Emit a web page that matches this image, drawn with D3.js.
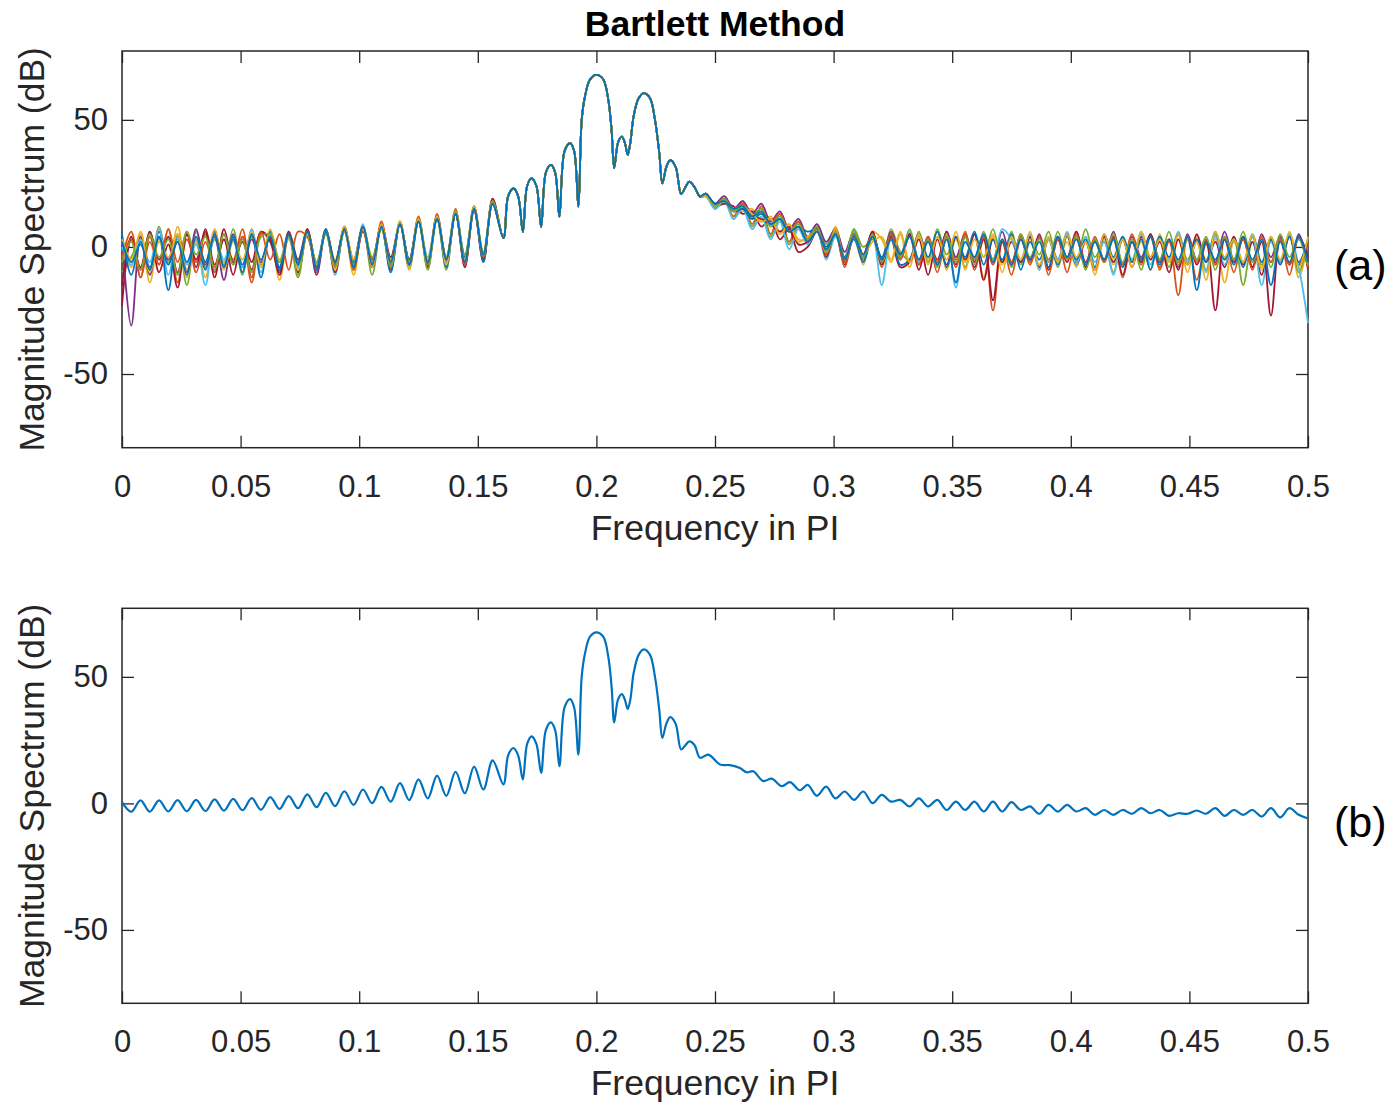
<!DOCTYPE html>
<html>
<head>
<meta charset="utf-8">
<script src="https://cdn.jsdelivr.net/npm/d3@7"></script>
<style>
  body { margin: 0; background: #fff; }
  svg text { font-family: "Liberation Sans", Arial, Helvetica, sans-serif; }
</style>
</head>
<body>
<svg id="chart" width="1394" height="1107"></svg>
<script>
// axis ticks
const xTickValues = [0, 0.05, 0.1, 0.15, 0.2, 0.25, 0.3, 0.35, 0.4, 0.45, 0.5];
const xTickLabels = ["0", "0.05", "0.1", "0.15", "0.2", "0.25", "0.3", "0.35", "0.4", "0.45", "0.5"];
const yTickValues = [-50, 0, 50];
const yTickLabels = ["-50", "0", "50"];

// frequency bins are 1/256 apart (in units of PI)
const binWidth = 1 / 256;

// (a) every run, dB on bins 0..40 (left of the peaks)
const runLeftDb = [
  [-4, 6, -12, 4, -7, 7, -14, 3, -6, 5, -10, 3, -5, 7, -12, 5, 4, -9, 6, -7, 7, -10, 6, -6, 8, -9, 7, -7, 10, -8, 10, -6, 12, -8, 13, -5, 15, -7, 16, -4, 18],
  [2, -8, 5, -14, 3, -7, 8, -9, 2, -12, 6, -6, 3, -10, 7, -8, 5, -13, 4, -7, 6, -9, 7, -5, 6, -11, 8, -6, 7, -7, 9, -9, 10, -5, 12, -7, 13, -4, 16, -6, 19],
  [-10, -4, 3, -9, 8, -6, 3, -15, 6, -8, 3, -7, 7, -11, 4, -7, 6, -6, 5, -11, 7, -7, 6, -8, 7, -6, 8, -11, 8, -5, 9, -7, 11, -6, 11, -9, 14, -3, 15, -5, 17],
  [-23, 3, -8, 6, -10, 1, -16, 5, -5, 6, -12, 7, -6, 2, -9, 6, 3, -8, 5, -10, 5, -8, 7, -7, 8, -8, 6, -5, 8, -9, 9, -5, 10, -7, 12, -6, 13, -8, 15, -3, 17],
  [4, -31, 4, -11, 6, -5, 2, -10, 7, -7, 4, -13, 5, -8, 3, -6, 6, -10, 4, -8, 6, -11, 6, -6, 7, -7, 7, -8, 8, -6, 9, -8, 10, -7, 11, -4, 13, -6, 14, -5, 18],
  [0, -7, 3, -6, 7, -11, 4, -7, 1, -15, 5, -5, 4, -8, 7, -10, 5, -6, 6, -8, 5, -6, 7, -11, 7, -8, 9, -6, 8, -7, 10, -8, 10, -4, 12, -6, 14, -5, 16, -4, 18],
  [-15, 4, -9, 6, -5, 4, -10, 5, -8, 7, -7, 3, -11, 4, -6, 6, 2, -11, 6, -5, 7, -7, 6, -10, 7, -5, 8, -8, 9, -4, 9, -7, 11, -8, 12, -5, 13, -7, 16, -5, 19],
  [5, -11, 2, -8, 4, -17, 5, -6, 3, -9, 6, -8, 4, -7, 5, -12, 6, -8, 5, -6, 6, -9, 7, -8, 6, -6, 8, -7, 8, -10, 9, -5, 10, -6, 12, -8, 13, -4, 15, -6, 18],
  [-4, 3, -12, 2, -7, 7, -6, 6, -10, 2, -8, 5, -7, 4, -14, 6, -5, 5, -9, 6, 4, -8, 6, -7, 7, -9, 7, -5, 9, -7, 9, -6, 11, -7, 11, -5, 13, -7, 15, -4, 17],
  [3, -5, 6, -10, 2, -4, 5, -12, 3, -6, 7, -9, 2, -5, 6, -8, 7, -5, 3, -9, 5, -7, 6, -9, 8, -5, 7, -8, 9, -6, 10, -8, 11, -5, 12, -7, 14, -5, 16, -3, 18],
  [-6, 2, -9, 5, -4, 3, -11, 6, -3, 4, -9, 5, -7, 3, -10, 4, 5, -6, 4, -12, 6, -6, 5, -8, 6, -7, 8, -4, 7, -8, 9, -6, 10, -9, 11, -4, 14, -6, 15, -2, 18],
  [2, -6, 1, -9, 4, -7, 2, -11, 4, -6, 5, -8, 3, -10, 5, -5, 4, -9, 5, -7, 6, -8, 6, -6, 7, -8, 8, -7, 8, -6, 9, -7, 10, -6, 11, -5, 13, -6, 15, -3, 17]
];

// (a) every run, dB on bins 63..128 (right of the peaks)
const runRightDb = [
  [21, 15, 19, 12, 18, 9, 16, 5, 13, 2, 10,  1, 8, -3, 6, -6, 6, -5, 5, -8, 4, -5,  5, -7, 3, -10, 4, -5, 6, -9, 3, -25, 2,
   -11, 3, -6, 4, -5, 3, -10, 4, -8, 2, -6,  3, -12, 2, -7, 5, -9, 2, -6, 3, -13, 1,  -7, 3, -10, 4, -8, 2, -6, 3, -11, 4, -8],
  [20, 17, 18, 15, 14, 15, 10, 12, 6, 9, 3,  3, 7, -1, 8, -4, 5, -7, 6, 3, -6, 5,  -8, 4, -5, 6, -9, 3, -6, 5, -12, 4, -7,
   5, -6, 3, -9, 4, -5, 2, -8, 4, -11, 3,  -7, 4, -5, 2, -9, 5, -6, 3, -10, 4, -5,  3, -14, 2, -6, 4, -8, 3, -7, 5, -12, 2],
  [21, 17, 19, 11, 17, 8, 14, 4, 11, 1, 8,  3, 9, 1, 6, -4, 7, 0, 3, -6, 7, -2,  -5, 6, -6, 7, -3, 4, -8, 5, -4, 7, -6,
   6, -7, 4, -3, 6, -8, 4, -6, 7, -4, 2,  -10, 3, -6, 6, -4, 4, -8, 5, -5, 3, -9,  5, -5, 4, -15, 2, -7, 4, -6, 5, -10, 3],
  [20, 16, 17, 16, 13, 14, 8, 11, 3, 7, -2,  0, 6, -3, 5, -7, 4, -4, 6, -6, 3, -8,  -6, 3, -11, 3, -7, 4, -5, 5, -13, 3, -6,
   2, -6, 4, -8, 3, -5, 5, -7, 2, -9, 4,  -6, 3, -8, 4, -5, 2, -10, 3, -7, 5, -6,  2, -8, 4, -7, 2, -11, 3, -6, 4, -7, 2],
  [21, 17, 20, 15, 18, 13, 17, 10, 14, 7, 11,  4, 9, 2, 7, -2, 6, -3, 5, -5, 6, -3,  5, -5, 4, -7, 6, -4, 5, -8, 4, -5, 6,
   -6, 3, -5, 5, -8, 4, -4, 6, -6, 3, -5,  6, -7, 4, -4, 5, -6, 3, -8, 5, -5, 3,  -6, 6, -5, 3, -8, 5, -4, 4, -7, 5, -9],
  [20, 15, 18, 11, 15, 7, 12, 3, 10, -1, 7,  1, 7, -5, 4, -4, 6, -6, 5, -15, 3, -5,  6, -6, 2, -8, 6, -16, 4, -4, 5, -7, 7,
   3, -5, 5, -9, 3, -5, 6, -7, 4, -6, 2,  -11, 4, -5, 5, -7, 3, -5, 6, -6, 2, -10,  4, -7, 3, -6, 4, -15, 2, -6, 5, -8, -30],
  [21, 16, 18, 14, 15, 12, 11, 9, 6, 8, 1,  2, 8, -4, 7, -5, 5, -3, 6, -7, 4, -4,  5, -9, 3, -5, 6, -7, 4, -6, 3, -21, 2,
   -7, 5, -5, 4, -9, 3, -6, 6, -8, 3, -5,  4, -11, 2, -6, 5, -5, 3, -9, 4, -7, 2,  -25, 3, -6, 4, -8, 2, -27, 3, -7, 4, -4],
  [20, 17, 18, 14, 15, 11, 13, 9, 11, 6, 8,  6, 7, 0, 5, -4, 3, -6, 4, -4, 5, -7,  -5, 5, -4, 6, -8, 4, -4, 6, -7, 3, -5,
   5, -9, 2, -5, 3, -7, 5, -5, 3, -8, 5,  -4, 4, -6, 3, -9, 4, -4, 5, -7, 3, -6,  6, -5, 3, -8, 5, -6, 3, -7, 4, -6, 3],
  [21, 16, 19, 14, 17, 12, 15, 9, 13, 6, 10,  2, 7, -3, 6, -8, 5, -4, 4, -6, 5, -5,  4, -7, 4, -6, 3, -8, 5, -5, 4, -7, 3,
   -6, 4, -7, 4, -11, 3, -5, 5, -7, 4, -6,  3, -7, 5, -5, 4, -8, 3, -19, 4, -6, 3,  -7, 4, -5, 3, -9, 4, -6, 3, -7, 4, -8],
  [20, 16, 18, 15, 16, 13, 10, 11, 5, 9, 2,  4, 6, -2, 7, -5, 4, -3, 2, 4, -5, 6,  -6, 5, -7, 4, -5, 6, -9, 3, -4, 5, -10,
   4, -5, 6, -7, 3, -6, 5, -4, 2, -9, 5,  -5, 3, -8, 6, -4, 3, -6, 5, -7, 2, -13,  6, -4, 3, -6, 5, -9, 4, -5, 6, -8, 4],
  [21, 16, 19, 14, 16, 12, 15, 8, 12, 6, 9,  3, 8, -2, 6, -5, 7, -4, 5, -6, 3, -4,  7, -5, 3, -8, 5, -6, 4, -7, 6, -5, 3,
   -8, 5, -4, 3, -6, 6, -5, 4, -9, 3, -5,  5, -6, 3, -9, 4, -5, 6, -7, 3, -5, 4,  -9, 4, -5, 6, -6, 3, -8, 5, -4, 3, -7],
  [21, 17, 18, 15, 16, 12, 14, 9, 11, 6, 8,  2, 6, -1, 5, -5, 4, -3, 4, -5, 3, -3,  4, -5, 2, -7, 3, -14, 2, -4, 5, -6, 3,
   -7, 3, -5, 2, -8, 4, -4, 3, -7, 2, -5,  3, -8, 2, -5, 4, -7, 3, -5, 4, -17, 2,  -5, 3, -7, 4, -5, 3, -15, 2, -6, 4, -6]
];

const runColors = ["#D95319", "#EDB120", "#77AC30", "#A2142F", "#7E2F8E", "#4DBEEE",
  "#A2142F", "#0072BD", "#D95319", "#EDB120", "#77AC30", "#0072BD"];

// the peak region, where all runs lie on top of each other
const centerFreq = [0.1608, 0.1628, 0.165, 0.167, 0.169, 0.1708, 0.1727, 0.1747, 0.1767, 0.1787,
  0.1808, 0.1826, 0.1844, 0.1866, 0.1889, 0.1906, 0.1924, 0.1938, 0.1952, 0.1973,
  0.2, 0.2029, 0.205, 0.2064, 0.2075, 0.2091, 0.2107, 0.212, 0.2132, 0.2143,
  0.2157, 0.2178, 0.22, 0.2226, 0.2247, 0.2265, 0.2278, 0.2295, 0.2311, 0.2334,
  0.2357, 0.2375, 0.2392, 0.2414, 0.2437];
const aCenterDb = [3.5, 20, 23, 20, 5.9, 24, 27, 24, 7.9, 29.3,
  32.3, 29.3, 11.9, 37.8, 40.8, 37.8, 15.8, 50, 59.3, 65.9,
  67.7, 65.9, 58, 46, 31, 41, 43.4, 41, 36.2, 41,
  51.5, 58.5, 60.5, 58.5, 50, 37, 25, 31.5, 34.2, 31.5,
  20.8, 23.5, 25.7, 23.5, 19.8];
const bCenterDb = [7.5, 19, 21.9, 19, 9.4, 23.5, 26.5, 23.5, 12.1, 29,
  32, 29, 14.7, 38, 41.2, 38, 19.3, 50, 59.3, 65.9,
  67.6, 65.9, 58, 46.2, 32, 41, 43.2, 41, 37.3, 41,
  51.5, 58.7, 60.9, 58.7, 50, 37, 25.9, 31.5, 34.1, 31.5,
  21.3, 23, 24.5, 23, 18];

// (b) averaged spectrum
const bLeftDb = [0.5, -3.3, 1.2, -3.3, 1.2, -3.2, 1.3, -3.1, 1.4, -3.0,
  1.6, -2.9, 1.8, -2.7, 2.1, -2.5, 2.5, -2.2, 2.9, -1.9,
  3.6, -1.5, 4.2, -1.1, 4.8, -0.6, 5.5, 0.1, 6.5, 0.7,
  8.0, 1.3, 9.5, 2.0, 11.0, 3.0, 12.5, 4.0, 14.5, 5.5, 17.0];
const bTailFreq = [0.2472, 0.2521, 0.2563, 0.2605, 0.2633, 0.2661, 0.2704, 0.2739, 0.2782, 0.2816, 0.2858];
const bTailDb = [19.3, 15.4, 15.1, 14, 12.3, 12.7, 8.8, 9.8, 6.8, 8.4, 5.2];
// bins 74..128
const bRightDb = [7.3, 3.0, 6.6, 2.0, 4.7, 1.4, 4.7, 0.1, 3.4, 0.7,
  1.4, -1.2, 2.0, -1.2, 1.4, -2.6, 0.7, -2.6, 0.7, -3.2,
  0.7, -3.2, 0.5, -2.6, -1.2, -4.1, -0.6, -3.2, -0.6, -3.2,
  -1.9, -4.5, -2.6, -4.5, -2.6, -4.1, -1.9, -3.9, -2.6, -4.9,
  -3.9, -4.1, -2.8, -4.1, -1.9, -4.9, -2.6, -4.5, -2.6, -5.2,
  -1.9, -5.5, -1.9, -4.5, -6];

const onBins = (startBin, values) => values.map((db, i) => ({ f: (startBin + i) * binWidth, db: db }));
const pairs = (freqs, dbs) => freqs.map((f, i) => ({ f: f, db: dbs[i] }));

const svg = d3.select("#chart");
const ink = "#262626";
const left = 122, right = 1308;

const x = d3.scaleLinear().domain([0, 0.5]).range([left, right]);

const panels = [
  { top: 51, bottom: 447.7, tag: "(a)" },
  { top: 608.3, bottom: 1003.3, tag: "(b)" }
];

const drawPanel = (p) => {
  const y = d3.scaleLinear().domain([-79, 77.1]).range([p.bottom, p.top]);
  const g = svg.append("g");

  const styleAxis = (a) => {
    a.attr("color", ink).attr("font-family", null).attr("font-size", 31);
    a.select(".domain").remove();
    a.selectAll(".tick line").attr("stroke-width", 1.3);
    a.selectAll("text").attr("fill", ink);
  };

  g.append("g")
    .attr("transform", "translate(0," + p.bottom + ")")
    .call(d3.axisBottom(x).tickValues(xTickValues).tickFormat((d, i) => xTickLabels[i]).tickSize(-12).tickSizeOuter(0).tickPadding(27))
    .call(styleAxis);
  g.append("g")
    .attr("transform", "translate(0," + p.top + ")")
    .call(d3.axisTop(x).tickValues(xTickValues).tickFormat("").tickSize(-12).tickSizeOuter(0))
    .call(styleAxis);
  g.append("g")
    .attr("transform", "translate(" + left + ",0)")
    .call(d3.axisLeft(y).tickValues(yTickValues).tickFormat((d, i) => yTickLabels[i]).tickSize(-12).tickSizeOuter(0).tickPadding(14))
    .call(styleAxis);
  g.append("g")
    .attr("transform", "translate(" + right + ",0)")
    .call(d3.axisRight(y).tickValues(yTickValues).tickFormat("").tickSize(-12).tickSizeOuter(0))
    .call(styleAxis);

  g.append("rect")
    .attr("x", left).attr("y", p.top)
    .attr("width", right - left).attr("height", p.bottom - p.top)
    .attr("fill", "none").attr("stroke", ink).attr("stroke-width", 1.5);

  // axis labels
  g.append("text")
    .attr("x", (left + right) / 2).attr("y", p.bottom + 92)
    .attr("text-anchor", "middle").attr("font-size", 35.5).attr("fill", ink)
    .text("Frequency in PI");
  g.append("text")
    .attr("transform", "translate(44," + (p.top + p.bottom) / 2 + ") rotate(-90)")
    .attr("text-anchor", "middle").attr("font-size", 35.5).attr("fill", ink)
    .text("Magnitude Spectrum (dB)");
  g.append("text")
    .attr("x", 1334).attr("y", (p.top + p.bottom) / 2 + 31)
    .attr("font-size", 43).attr("fill", "#000")
    .text(p.tag);

  return { g: g, y: y };
};

const pa = drawPanel(panels[0]);
const pb = drawPanel(panels[1]);

svg.append("text")
  .attr("x", (left + right) / 2).attr("y", 36)
  .attr("text-anchor", "middle").attr("font-size", 35.5).attr("font-weight", "bold").attr("fill", "#000")
  .text("Bartlett Method");

// (a) lines
const lineA = d3.line().x(d => x(d.f)).y(d => pa.y(d.db)).curve(d3.curveCatmullRom.alpha(0.5));
const runs = runLeftDb.map((l, i) => [
  ...onBins(0, l),
  ...pairs(centerFreq, aCenterDb),
  ...onBins(63, runRightDb[i])
]);
pa.g.selectAll("path.run")
  .data(runs)
  .enter()
  .append("path")
  .attr("class", "run")
  .attr("d", d => lineA(d))
  .attr("fill", "none")
  .attr("stroke", (d, i) => runColors[i])
  .attr("stroke-width", 1.8)
  .attr("stroke-linejoin", "round");

// (b) line
const lineB = d3.line().x(d => x(d.f)).y(d => pb.y(d.db)).curve(d3.curveCatmullRom.alpha(0.5));
const avg = [
  ...onBins(0, bLeftDb),
  ...pairs(centerFreq, bCenterDb),
  ...pairs(bTailFreq, bTailDb),
  ...onBins(74, bRightDb)
];
pb.g.append("path")
  .attr("d", lineB(avg))
  .attr("fill", "none")
  .attr("stroke", "#0072BD")
  .attr("stroke-width", 2.2)
  .attr("stroke-linejoin", "round");
</script>
</body>
</html>
